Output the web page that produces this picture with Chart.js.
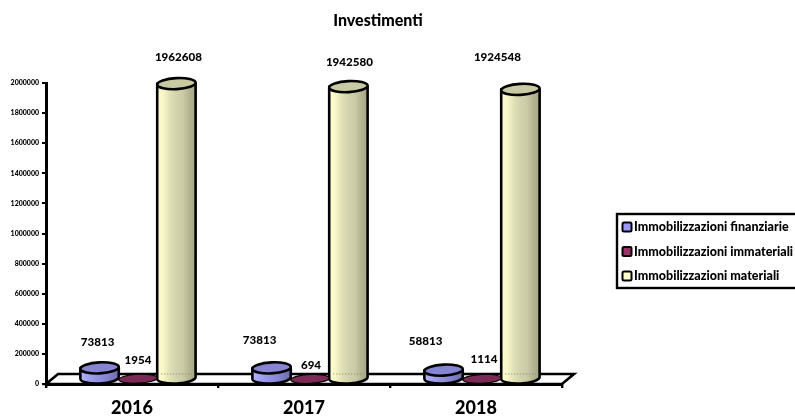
<!DOCTYPE html>
<html>
<head>
<meta charset="utf-8">
<title>Investimenti</title>
<script src="https://cdn.jsdelivr.net/npm/chart.js@4/dist/chart.umd.min.js"></script>
<style>
  html, body { margin: 0; padding: 0; background: #fff; }
  canvas { display: block; }
</style>
</head>
<body>
<canvas id="investimenti" width="795" height="416"></canvas>
<script>
  "use strict";

  const years       = ["2016", "2017", "2018"];
  const finanziarie = [73813, 73813, 58813];
  const immateriali = [1954, 694, 1114];
  const materiali   = [1962608, 1942580, 1924548];
  const yTicks      = [0, 200000, 400000, 600000, 800000, 1000000, 1200000, 1400000, 1600000, 1800000, 2000000];

  const FONT = "Lato, 'Open Sans', sans-serif";

  // per-label nudge from the top of each cylinder, [dx, dy] in px
  const labelNudge = [
    [[-2, -26], [-12, -28], [-18, -29]],
    [[0, -18], [1, -14], [2, -20]],
    [[2, -26], [1, -24], [-23, -32]],
  ];

  // colour ramps, left to right across a cylinder
  const ramps = [
    { stops: ["#b4b4ff", "#a2a2f4", "#9494e4", "#8a8ad8", "#7c7cc4", "#6a6aa8"], top: "#8585d2", ry: 5.5, edge: 2.6 },
    { stops: ["#a83a70", "#993366", "#85295a", "#702050"], top: "#7b2a55", ry: 4.5, edge: 1.2 },
    { stops: ["#ffffd4", "#f6f6c6", "#e0e0b6", "#d2d2ae", "#cbcba6", "#b4b492", "#a6a686"], top: "#c9c9a4", ry: 5.5, edge: 2.6 },
  ];

  /* ------------------------------------------------------------------
   * Cylinders
   * ------------------------------------------------------------------ */
  const DEPTH_X = 6;
  const DEPTH_Y = -5;
  const TILT = -0.05;

  function drawCylinder(ctx, bar, ramp) {
    const cx  = bar.x + DEPTH_X;
    const top = bar.y + DEPTH_Y;
    const bot = bar.base + DEPTH_Y;
    const rx  = bar.width / 2;
    const ry  = ramp.ry;

    const grad = ctx.createLinearGradient(cx - rx, 0, cx + rx, 0);
    ramp.stops.forEach(function (c, i) { grad.addColorStop(i / (ramp.stops.length - 1), c); });

    ctx.save();
    ctx.strokeStyle = "#000";
    ctx.lineWidth = ramp.edge;
    ctx.lineJoin = "round";

    ctx.beginPath();
    ctx.moveTo(cx - rx, top);
    ctx.lineTo(cx - rx, bot);
    ctx.ellipse(cx, bot, rx, ry, TILT, Math.PI, 0, true);
    ctx.lineTo(cx + rx, top);
    ctx.closePath();
    ctx.fillStyle = grad;
    ctx.fill();
    ctx.stroke();

    // floor edge showing faintly through the tall cylinders
    if (bot - top > 100) {
      ctx.beginPath();
      ctx.setLineDash([1, 2]);
      ctx.lineWidth = 2;
      ctx.strokeStyle = "rgba(120,120,100,0.45)";
      ctx.moveTo(cx - rx + 4, bot - 4);
      ctx.lineTo(cx + rx - 4, bot - 4);
      ctx.stroke();
      ctx.setLineDash([]);
      ctx.strokeStyle = "#000";
      ctx.lineWidth = ramp.edge;
    }

    ctx.beginPath();
    ctx.ellipse(cx, top, rx, ry, TILT, 0, Math.PI * 2);
    ctx.fillStyle = ramp.top;
    ctx.fill();
    ctx.stroke();
    ctx.restore();
  }

  /* ------------------------------------------------------------------
   * Floor, cylinders, labels, title, legend
   * ------------------------------------------------------------------ */
  const cylinderPlugin = {
    id: "cylinders",

    beforeDatasetsDraw: function (chart) {
      const ctx = chart.ctx;
      const a = chart.chartArea;
      ctx.save();
      ctx.beginPath();
      ctx.moveTo(a.left, a.bottom);
      ctx.lineTo(a.left + 12, a.bottom - 10);
      ctx.lineTo(a.right + 12, a.bottom - 10);
      ctx.lineTo(a.right, a.bottom);
      ctx.closePath();
      ctx.fillStyle = "#fff";
      ctx.fill();
      ctx.strokeStyle = "#000";
      ctx.lineWidth = 2.6;
      ctx.stroke();
      ctx.restore();
    },

    beforeDatasetDraw: function (chart, args) {
      const ramp = ramps[args.index];
      args.meta.data.forEach(function (bar) {
        drawCylinder(chart.ctx, bar, ramp);
      });
      return false;
    },

    afterDatasetsDraw: function (chart) {
      const ctx = chart.ctx;
      ctx.save();
      ctx.fillStyle = "#000";
      ctx.textAlign = "center";
      ctx.textBaseline = "middle";
      ctx.font = "900 11.6px " + FONT;
      chart.data.datasets.forEach(function (ds, d) {
        chart.getDatasetMeta(d).data.forEach(function (bar, i) {
          const n = labelNudge[d][i];
          ctx.fillText(String(ds.data[i]), bar.x + DEPTH_X + n[0], bar.y + DEPTH_Y + n[1]);
        });
      });

      ctx.font = "900 16px " + FONT;
      ctx.fillText("Investimenti", 378, 21);
      ctx.restore();
      drawLegend(chart);
    },
  };

  function drawLegend(chart) {
    const ctx = chart.ctx;
    const left = 617, top = 214, rows = [227, 251.5, 276];
    ctx.save();
    ctx.strokeStyle = "#000";
    ctx.lineWidth = 2.4;
    ctx.strokeRect(left, top, 190, 74);
    ctx.textAlign = "left";
    ctx.textBaseline = "middle";
    ctx.font = "900 12.5px " + FONT;
    chart.data.datasets.forEach(function (ds, i) {
      ctx.beginPath();
      ctx.roundRect(622.5, rows[i] - 4.5, 9, 9, 1.5);
      ctx.fillStyle = ds.backgroundColor;
      ctx.fill();
      ctx.lineWidth = 2;
      ctx.stroke();
      ctx.fillStyle = "#000";
      ctx.fillText(ds.label, 634, rows[i]);
    });
    ctx.restore();
  }

  /* ------------------------------------------------------------------
   * Chart
   * ------------------------------------------------------------------ */
  new Chart(document.getElementById("investimenti").getContext("2d"), {
    type: "bar",
    plugins: [cylinderPlugin],
    data: {
      labels: years,
      datasets: [
        { label: "Immobilizzazioni finanziarie", data: finanziarie, backgroundColor: "#9999ff" },
        { label: "Immobilizzazioni immateriali", data: immateriali, backgroundColor: "#993366" },
        { label: "Immobilizzazioni materiali",   data: materiali,   backgroundColor: "#ffffcc" },
      ],
    },
    options: {
      responsive: false,
      animation: false,
      layout: { padding: { top: 83, right: 233, left: 0, bottom: 0 } },
      datasets: { bar: { categoryPercentage: 0.67, barPercentage: 1 } },
      plugins: {
        legend:  { display: false },
        title:   { display: false },
        tooltip: { enabled: false },
      },
      scales: {
        x: {
          afterFit: function (scale) { scale.height = 32; },
          border: { color: "#000", width: 3 },
          grid: { drawOnChartArea: false, color: "#000", lineWidth: 2.4, tickLength: 4 },
          ticks: { color: "#000", font: { family: FONT, size: 18, weight: "900" }, padding: 9, maxRotation: 0 },
        },
        y: {
          min: 0,
          max: 2000000,
          afterFit: function (scale) { scale.width = 46; },
          afterBuildTicks: function (scale) {
            scale.ticks = yTicks.map(function (v) { return { value: v }; });
          },
          border: { color: "#000", width: 3 },
          grid: { drawOnChartArea: false, color: "#000", lineWidth: 2, tickLength: 4 },
          ticks: {
            color: "#000",
            font: { family: FONT, size: 7, weight: "900" },
            padding: 3,
            callback: function (value) { return String(value); },
          },
        },
      },
    },
  });
</script>
</body>
</html>
